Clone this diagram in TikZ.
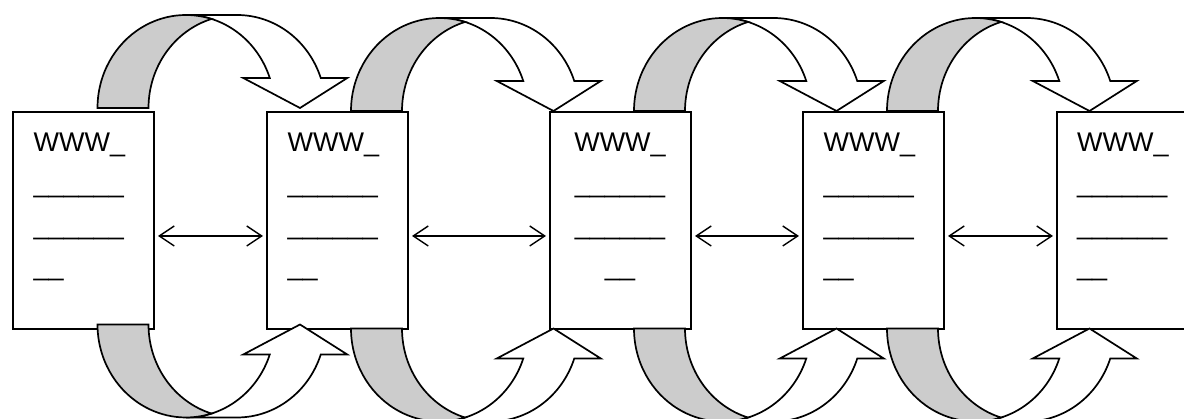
\documentclass[tikz,border=0pt]{standalone}
\usepackage{fontspec}
\setmainfont{Liberation Sans}
\usetikzlibrary{arrows.meta}
\definecolor{bandgray}{RGB}{204,204,204}
\newcommand{\myus}{\char"5F\relax}
\newcommand{\leftlines}{\vtop{\hbox{WWW\myus}\hbox{\myus\myus\myus\myus\myus\myus}\hbox{\myus\myus\myus\myus\myus\myus}\hbox{\myus\myus}}}
\newcommand{\centerlines}{\vtop{\halign{\hfil##\hfil\cr WWW\myus\cr \myus\myus\myus\myus\myus\myus\cr \myus\myus\myus\myus\myus\myus\cr \myus\myus\cr}}}
\tikzset{
  docbox/.style={draw, line width=2pt, fill=white, rectangle, minimum width=141pt, minimum height=217pt, inner sep=0pt, anchor=north west},
  doctext/.style={inner sep=0pt, font=\fontsize{27}{41.4}\selectfont},
  duplex/.style={line width=1.4pt, {Straight Barb[length=15pt,width=20pt]}-{Straight Barb[length=15pt,width=20pt]}, shorten <=3pt, shorten >=3pt},
  band/.style={draw, line width=1.7pt, line join=miter},
  pics/carrow/.style={code={
    \path[band, fill=white] (202.5,0) -- (145.77,30) -- (172.27,30)
      arc[start angle=18.82, end angle=90, x radius=88.5, y radius=93]
      -- (139.5,93)
      arc[start angle=90, end angle=18.82, x radius=88.5, y radius=93]
      -- (249.77,30) -- cycle;
    \path[band, fill=bandgray] (0,0)
      arc[start angle=180, end angle=73.25, x radius=88.5, y radius=93]
      arc[start angle=106.75, end angle=180, x radius=88.5, y radius=93]
      -- cycle;
  }}
}
\begin{document}
\begin{tikzpicture}[x=1pt,y=1pt]
\useasboundingbox (0,0) rectangle (1184,419);
\clip (0,0) rectangle (1184,419);
\fill[white] (0,0) rectangle (1184,419);
% boxes
\node[docbox] (b1) at (12,308) {};
\node[docbox] (b2) at (266,308) {};
\node[docbox] (b3) at (549,308) {};
\node[docbox] (b4) at (802,308) {};
\node[docbox] (b5) at (1056,308) {};
% texts
\node[doctext, anchor=base west] (t1) at (33.5,267.5) {\leftlines};
\node[doctext, anchor=base west] (t2) at (287.5,267.5) {\leftlines};
\node[doctext, anchor=base] (t3) at (620,267.5) {\centerlines};
\node[doctext, anchor=base west] (t4) at (823.5,267.5) {\leftlines};
\node[doctext, anchor=base west] (t5) at (1077,267.5) {\leftlines};
% curved arrows on top
\pic at (97.5,311) {carrow};
\pic at (351,308) {carrow};
\pic at (634,308) {carrow};
\pic at (887,308) {carrow};
% curved arrows below
\pic[yscale=-1] at (97.5,94.5) {carrow};
\pic[yscale=-1] at (351,90.5) {carrow};
\pic[yscale=-1] at (634,90.5) {carrow};
\pic[yscale=-1] at (887,90.5) {carrow};
% double arrows
\draw[duplex] ([yshift=-15.5pt]b1.east) -- ([yshift=-15.5pt]b2.west);
\draw[duplex] ([yshift=-15.5pt]b2.east) -- ([yshift=-15.5pt]b3.west);
\draw[duplex] ([yshift=-15.5pt]b3.east) -- ([yshift=-15.5pt]b4.west);
\draw[duplex] ([yshift=-15.5pt]b4.east) -- ([yshift=-15.5pt]b5.west);
\end{tikzpicture}
\end{document}
